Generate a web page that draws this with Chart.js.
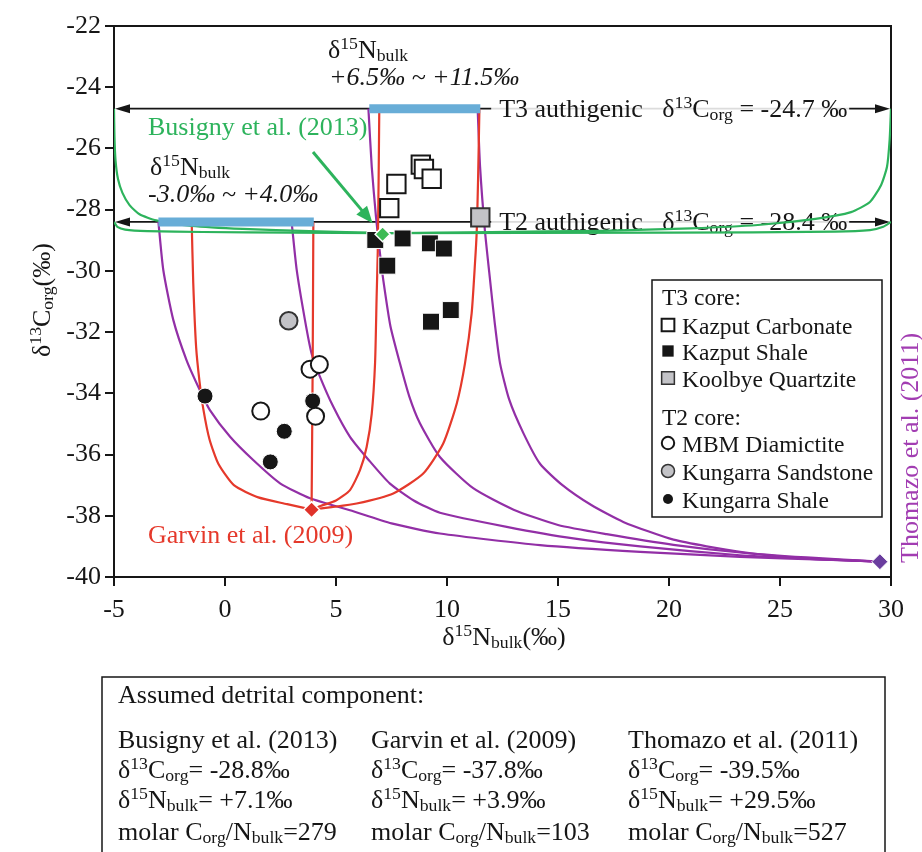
<!DOCTYPE html>
<html>
<head>
<meta charset="utf-8">
<script src="https://cdn.jsdelivr.net/npm/chart.js@4.4.1/dist/chart.umd.min.js"></script>
<style>
  html, body { margin: 0; padding: 0; background: #fff; }
  canvas { display: block; }
</style>
</head>
<body>
<canvas id="isoChart" width="922" height="852"></canvas>
<script>
// ---- samples: x = d15N bulk, y = d13C org ----
const kazputCarbonateN = [7.4, 7.72, 8.82, 8.96, 9.31];
const kazputCarbonateC = [-27.95, -27.16, -26.53, -26.67, -26.99];
const kazputShaleN = [6.77, 8.0, 9.23, 9.86, 7.31, 9.28, 10.17];
const kazputShaleC = [-28.99, -28.94, -29.1, -29.27, -29.83, -31.66, -31.28];
const koolbyeN = [11.5];
const koolbyeC = [-28.25];
const mbmN = [3.83, 4.25, 1.61, 4.08];
const mbmC = [-33.21, -33.06, -34.58, -34.75];
const kungarraSandN = [2.87];
const kungarraSandC = [-31.63];
const kungarraShaleN = [-0.9, 3.95, 2.67, 2.04];
const kungarraShaleC = [-34.09, -34.25, -35.24, -36.24];

// ---- end members ----
const authigenicC = [-24.7, -28.4];            // T3, T2
const authigenicNames = ['T3 authigenic', 'T2 authigenic'];
const bulkNRanges = [[6.5, 11.5], [-3.0, 4.0]];
const detritalSources = ['Busigny et al. (2013)', 'Garvin et al. (2009)', 'Thomazo et al. (2011)'];
const detritalC = [-28.8, -37.8, -39.5];
const detritalN = [7.1, 3.9, 29.5];
const detritalCN = [279, 103, 527];

// ---- mixing curves [N, C] ----
const busignyCurveA = [[-5, -24.7], [-4.98, -25.6], [-4.93, -26.4], [-4.82, -27.0], [-4.62, -27.45], [-4.3, -27.85], [-3.85, -28.15], [-3.1, -28.35], [-1.5, -28.53], [0.8, -28.63], [3.8, -28.7], [7.1, -28.76]];
const busignyCurveB = [[-5, -28.4], [-4.85, -28.56], [-4.5, -28.65], [-3.5, -28.7], [-1, -28.73], [3, -28.75], [7.1, -28.77]];
const busignyCurveC = [[30, -24.7], [29.94, -25.7], [29.82, -26.6], [29.55, -27.2], [29.05, -27.75], [28.2, -28.08], [26.6, -28.3], [24.0, -28.5], [21.0, -28.61], [17.0, -28.69], [12.0, -28.73], [7.1, -28.77]];
const busignyCurveD = [[30, -28.4], [29.65, -28.56], [29.05, -28.67], [27.5, -28.72], [20, -28.75], [7.1, -28.77]];

const garvinCurveA = [[-1.5, -28.4], [-1.43, -30.4], [-1.3, -32.5], [-1.15, -33.6], [-0.98, -34.5], [-0.7, -35.5], [-0.3, -36.3], [0.4, -37.0], [1.5, -37.4], [2.8, -37.62], [3.9, -37.8]];
const garvinCurveB = [[3.98, -28.4], [3.95, -33.0], [3.9, -37.8]];
const garvinCurveC = [[6.95, -24.7], [6.92, -27.0], [6.88, -29.4], [6.83, -30.85], [6.76, -33.0], [6.61, -34.66], [6.38, -35.75], [6.08, -36.51], [5.63, -37.16], [5.0, -37.5], [4.3, -37.68], [3.9, -37.8]];
const garvinCurveD = [[11.46, -24.7], [11.4, -27.0], [11.34, -28.7], [11.26, -29.76], [11.11, -31.39], [10.81, -33.02], [10.44, -34.33], [9.83, -35.64], [8.93, -36.62], [7.58, -37.27], [5.93, -37.6], [4.8, -37.72], [3.9, -37.8]];

const thomazoCurveA = [[-3.0, -28.4], [-2.78, -29.97], [-2.33, -31.6], [-1.73, -32.92], [-1.13, -33.9], [-0.68, -34.55], [0.23, -35.42], [1.27, -36.18], [2.48, -36.94], [3.83, -37.43], [5.63, -37.82], [7.5, -38.25], [9.68, -38.58], [14.19, -38.96], [18.7, -39.18], [23.2, -39.34], [27.7, -39.45], [29.5, -39.5]];
const thomazoCurveB = [[3.0, -28.4], [3.23, -29.97], [3.6, -31.6], [3.9, -32.7], [4.28, -33.46], [4.88, -34.44], [5.63, -35.42], [6.5, -36.2], [7.43, -36.95], [8.5, -37.5], [9.68, -37.9], [12.69, -38.36], [15.69, -38.74], [18.7, -39.0], [23.2, -39.29], [26.2, -39.4], [29.5, -39.5]];
const thomazoCurveC = [[6.46, -24.7], [6.61, -26.6], [6.8, -28.23], [6.98, -29.43], [7.13, -30.3], [7.45, -31.8], [7.88, -33.02], [8.3, -34.1], [8.78, -34.98], [9.68, -36.08], [11.18, -37.1], [13.0, -37.8], [15.0, -38.3], [17.19, -38.6], [20.2, -38.95], [23.2, -39.2], [26.2, -39.36], [29.5, -39.5]];
const thomazoCurveD = [[11.38, -24.7], [11.49, -26.6], [11.71, -28.7], [11.94, -30.3], [12.15, -31.7], [12.39, -33.02], [12.8, -34.2], [13.44, -35.3], [14.19, -36.3], [15.2, -37.0], [16.5, -37.65], [17.94, -38.2], [20.2, -38.78], [23.2, -39.18], [26.2, -39.4], [29.5, -39.5]];

const xTicksMin = -5, xTicksMax = 30, xStep = 5;
const yTicksMin = -40, yTicksMax = -22, yStep = 2;

const FONT = '"Liberation Serif", "Times New Roman", Times, serif';
const INK = '#161616';
const GREEN = '#2db35c';
const RED = '#e5392b';
const PURPLE = '#922fa6';
const BAR_BLUE = '#68add7';
const GREY = '#c3c3c7';

function toPts(xs, ys) { return xs.map((v, i) => ({ x: v, y: ys[i] })); }
function pairs(arr) { return arr.map(p => ({ x: p[0], y: p[1] })); }
function signed(v) { return (v >= 0 ? '+' : '') + v.toFixed(1) + '‰'; }

// tiny rich text: ^{sup} and _{sub}
function parseRich(s) {
  const out = [];
  const re = /\^\{([^}]*)\}|_\{([^}]*)\}|([^^_]+)/g;
  let m;
  while ((m = re.exec(s))) {
    if (m[1] !== undefined) out.push([m[1], 'sup']);
    else if (m[2] !== undefined) out.push([m[2], 'sub']);
    else out.push([m[3], '']);
  }
  return out;
}
function setFont(ctx, kind, size, italic) {
  const s = kind ? size * 0.68 : size;
  ctx.font = (italic ? 'italic ' : '') + s.toFixed(1) + 'px ' + FONT;
}
function richWidth(ctx, s, size, italic) {
  let w = 0;
  parseRich(s).forEach(([t, k]) => { setFont(ctx, k, size, italic); w += ctx.measureText(t).width; });
  return w;
}
function drawRich(ctx, s, x, y, size, opts) {
  opts = opts || {};
  const italic = !!opts.italic;
  let cx = x;
  if (opts.align === 'center') cx -= richWidth(ctx, s, size, italic) / 2;
  ctx.textAlign = 'left';
  ctx.textBaseline = 'alphabetic';
  parseRich(s).forEach(([t, k]) => {
    setFont(ctx, k, size, italic);
    const dy = k === 'sup' ? -size * 0.36 : k === 'sub' ? size * 0.1 : 0;
    ctx.fillText(t, cx, y + dy);
    cx += ctx.measureText(t).width;
  });
  return cx;
}
function arrowHead(ctx, tipX, tipY, angle, len, half) {
  ctx.save();
  ctx.translate(tipX, tipY);
  ctx.rotate(angle);
  ctx.beginPath();
  ctx.moveTo(0, 0);
  ctx.lineTo(-len, -half);
  ctx.lineTo(-len, half);
  ctx.closePath();
  ctx.fill();
  ctx.restore();
}

const labelStartN = 12.35;   // where the authigenic labels begin

// frame, authigenic arrows (under the data), then labels / legend / box on top
const guidePlugin = {
  id: 'guides',
  beforeDatasetsDraw(chart) {
    const { ctx, chartArea: a, scales: { x, y } } = chart;
    ctx.save();
    ctx.strokeStyle = INK;
    ctx.lineWidth = 2;
    ctx.strokeRect(a.left, a.top, a.right - a.left, a.bottom - a.top);
    authigenicC.forEach((c, i) => {
      const py = y.getPixelForValue(c);
      ctx.strokeStyle = INK;
      ctx.fillStyle = INK;
      ctx.lineWidth = 1.6;
      ctx.beginPath();
      ctx.moveTo(a.left + 10, py);
      ctx.lineTo(a.right - 10, py);
      ctx.stroke();
      arrowHead(ctx, a.left + 1, py, Math.PI, 15, 4.5);
      arrowHead(ctx, a.right - 1, py, 0, 15, 4.5);
      const text = authigenicNames[i] + '   δ^{13}C_{org} = ' + c.toFixed(1) + ' ‰';
      const tx = x.getPixelForValue(labelStartN);
      const w = richWidth(ctx, text, 26);
      ctx.fillStyle = 'rgba(255,255,255,0.85)';
      ctx.fillRect(tx - 8, py - 15, w + 10, 27);
      ctx.fillStyle = INK;
      drawRich(ctx, text, tx, py + 8.5, 26);
    });
    ctx.restore();
  },
  afterDraw(chart) {
    const { ctx, scales: { x, y } } = chart;
    ctx.save();
    ctx.fillStyle = INK;

    // range labels above the blue bars
    drawRich(ctx, 'δ^{15}N_{bulk}', 328, 58, 26);
    drawRich(ctx, signed(bulkNRanges[0][0]) + ' ~ ' + signed(bulkNRanges[0][1]), 329, 85, 26, { italic: true });
    drawRich(ctx, 'δ^{15}N_{bulk}', 150, 175, 26);
    drawRich(ctx, signed(bulkNRanges[1][0]) + ' ~ ' + signed(bulkNRanges[1][1]), 148, 202, 26, { italic: true });

    // source labels
    ctx.fillStyle = GREEN;
    drawRich(ctx, detritalSources[0], 148, 135, 26);
    ctx.fillStyle = RED;
    drawRich(ctx, detritalSources[1], 148, 543, 26);
    ctx.save();
    ctx.fillStyle = '#a23db2';
    ctx.translate(918, 563);
    ctx.rotate(-Math.PI / 2);
    drawRich(ctx, detritalSources[2], 0, 0, 26);
    ctx.restore();

    // green pointer to the Busigny end member
    const fx = 313, fy = 152;
    const tx = x.getPixelForValue(detritalN[0]) - 10, ty = y.getPixelForValue(detritalC[0]) - 11;
    ctx.strokeStyle = GREEN;
    ctx.fillStyle = GREEN;
    ctx.lineWidth = 3;
    ctx.beginPath();
    ctx.moveTo(fx, fy);
    ctx.lineTo(tx - (tx - fx) * 0.12, ty - (ty - fy) * 0.12);
    ctx.stroke();
    arrowHead(ctx, tx, ty, Math.atan2(ty - fy, tx - fx), 17, 7);

    // axis titles
    ctx.fillStyle = INK;
    drawRich(ctx, 'δ^{15}N_{bulk}(‰)', 504, 645, 26, { align: 'center' });
    ctx.save();
    ctx.translate(50, 300);
    ctx.rotate(-Math.PI / 2);
    drawRich(ctx, 'δ^{13}C_{org}(‰)', 0, 0, 26, { align: 'center' });
    ctx.restore();

    // legend
    const lx = 652, ly = 280, lw = 230, lh = 237;
    ctx.fillStyle = '#fff';
    ctx.fillRect(lx, ly, lw, lh);
    ctx.strokeStyle = INK;
    ctx.lineWidth = 1.5;
    ctx.strokeRect(lx, ly, lw, lh);
    const rows = [
      { head: 'T3 core:', base: 305 },
      { label: 'Kazput Carbonate', base: 334, style: 'rect', r: 9, fill: '#fff', stroke: INK, bw: 2 },
      { label: 'Kazput Shale', base: 360, style: 'rect', r: 8, fill: INK, stroke: INK, bw: 0 },
      { label: 'Koolbye Quartzite', base: 387, style: 'rect', r: 9, fill: GREY, stroke: '#333', bw: 1.5 },
      { head: 'T2 core:', base: 425 },
      { label: 'MBM Diamictite', base: 452, style: 'circle', r: 6.2, fill: '#fff', stroke: INK, bw: 2 },
      { label: 'Kungarra Sandstone', base: 480, style: 'circle', r: 6.5, fill: GREY, stroke: '#333', bw: 1.5 },
      { label: 'Kungarra Shale', base: 508, style: 'circle', r: 5, fill: INK, stroke: INK, bw: 0 }
    ];
    rows.forEach(r => {
      ctx.fillStyle = INK;
      ctx.font = '23.5px ' + FONT;
      ctx.textAlign = 'left';
      ctx.textBaseline = 'alphabetic';
      if (r.head) {
        ctx.fillText(r.head, 662, r.base);
        return;
      }
      ctx.fillText(r.label, 682, r.base);
      ctx.fillStyle = r.fill;
      ctx.strokeStyle = r.stroke;
      ctx.lineWidth = r.bw;
      Chart.helpers.drawPoint(ctx, { pointStyle: r.style, radius: r.r, rotation: 0, borderWidth: r.bw }, 668, r.base - 9);
    });

    // assumed detrital component box
    ctx.strokeStyle = INK;
    ctx.lineWidth = 1.5;
    ctx.strokeRect(102, 677, 783, 180);
    ctx.fillStyle = INK;
    drawRich(ctx, 'Assumed detrital component:', 118, 703, 26);
    const colX = [118, 371, 628];
    detritalSources.forEach((src, i) => {
      drawRich(ctx, src, colX[i], 748, 26);
      drawRich(ctx, 'δ^{13}C_{org}= ' + detritalC[i].toFixed(1) + '‰', colX[i], 778, 26);
      drawRich(ctx, 'δ^{15}N_{bulk}= ' + signed(detritalN[i]), colX[i], 808, 26);
      drawRich(ctx, 'molar C_{org}/N_{bulk}=' + detritalCN[i], colX[i], 840, 26);
    });
    ctx.restore();
  }
};

function curve(pts, color) {
  return {
    data: pairs(pts), showLine: true, borderColor: color, borderWidth: 2.2,
    pointRadius: 0, tension: 0.2, fill: false, order: 10
  };
}
function bar(range, c) {
  return {
    data: [{ x: range[0], y: c }, { x: range[1], y: c }], showLine: true,
    borderColor: BAR_BLUE, borderWidth: 9, borderCapStyle: 'butt', pointRadius: 0, order: 5
  };
}
function markers(label, pts, style, r, fill, stroke, bw, order) {
  return {
    label, data: pts, showLine: false, pointStyle: style, pointRadius: r,
    pointBackgroundColor: fill, pointBorderColor: stroke, pointBorderWidth: bw,
    order: order === undefined ? 0 : order, clip: false
  };
}

const datasets = [
  curve(busignyCurveA, GREEN), curve(busignyCurveB, GREEN), curve(busignyCurveC, GREEN), curve(busignyCurveD, GREEN),
  curve(garvinCurveA, RED), curve(garvinCurveB, RED), curve(garvinCurveC, RED), curve(garvinCurveD, RED),
  curve(thomazoCurveA, PURPLE), curve(thomazoCurveB, PURPLE), curve(thomazoCurveC, PURPLE), curve(thomazoCurveD, PURPLE),
  bar(bulkNRanges[0], authigenicC[0]), bar(bulkNRanges[1], authigenicC[1]),
  markers('Kazput Carbonate', toPts(kazputCarbonateN, kazputCarbonateC), 'rect', 13, '#fff', INK, 2),
  markers('Kazput Shale', toPts(kazputShaleN, kazputShaleC), 'rect', 12, INK, '#fff', 1),
  markers('Koolbye Quartzite', toPts(koolbyeN, koolbyeC), 'rect', 13, GREY, '#333', 2),
  markers('MBM Diamictite', toPts(mbmN, mbmC), 'circle', 8.5, '#fff', INK, 2),
  markers('Kungarra Sandstone', toPts(kungarraSandN, kungarraSandC), 'circle', 8.8, GREY, '#333', 2),
  markers('Kungarra Shale', toPts(kungarraShaleN, kungarraShaleC), 'circle', 8, INK, '#fff', 1),
  markers('Busigny', [{ x: detritalN[0], y: detritalC[0] }], 'rectRot', 7.5, '#3dbb55', '#fff', 1.5, -1),
  markers('Garvin', [{ x: detritalN[1], y: detritalC[1] }], 'rectRot', 8, '#e0322a', '#fff', 1.5, -1),
  markers('Thomazo', [{ x: detritalN[2], y: detritalC[2] }], 'rectRot', 8, '#6a3d9e', '#fff', 1, -1)
];

new Chart(document.getElementById('isoChart'), {
  type: 'scatter',
  data: { datasets },
  options: {
    responsive: false,
    animation: false,
    events: [],
    layout: { padding: { top: 26, right: 31, left: 0, bottom: 215 } },
    plugins: { legend: { display: false }, tooltip: { enabled: false } },
    scales: {
      x: {
        type: 'linear', min: xTicksMin, max: xTicksMax,
        afterFit: s => { s.height = 60; },
        ticks: { stepSize: xStep, color: INK, padding: 9, font: { family: FONT, size: 26 } },
        grid: { drawOnChartArea: false, drawTicks: true, tickLength: 9, color: INK, lineWidth: 2 },
        border: { display: true, color: INK, width: 2 }
      },
      y: {
        type: 'linear', min: yTicksMin, max: yTicksMax,
        afterFit: s => { s.width = 114; },
        ticks: { stepSize: yStep, color: INK, padding: 4, font: { family: FONT, size: 26 } },
        grid: { drawOnChartArea: false, drawTicks: true, tickLength: 9, color: INK, lineWidth: 2 },
        border: { display: true, color: INK, width: 2 }
      }
    }
  },
  plugins: [guidePlugin]
});
</script>
</body>
</html>
